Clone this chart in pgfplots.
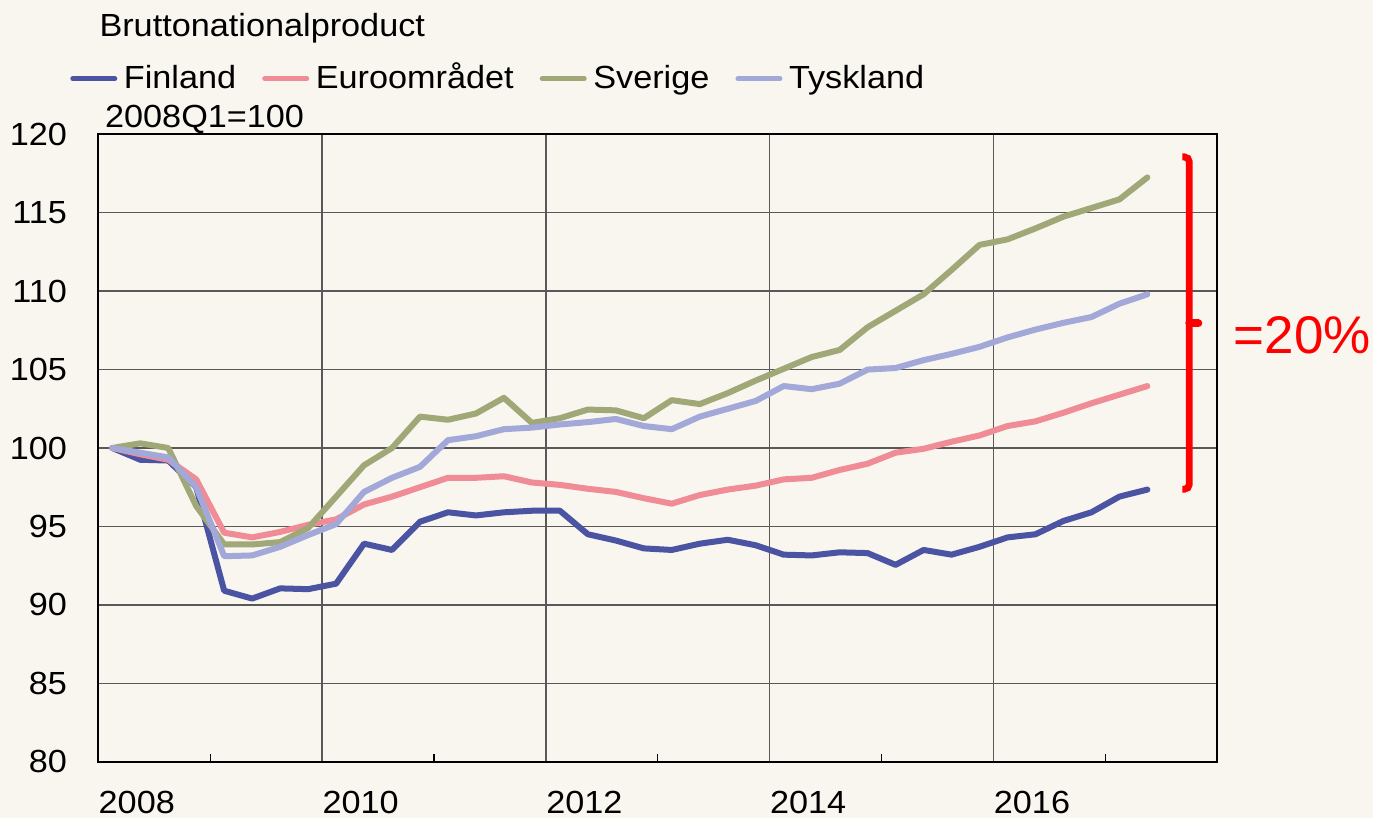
\documentclass[border=0pt]{standalone}
\usepackage{fontspec}
\setmainfont{Liberation Sans}[FakeStretch=1.07]
\newfontfamily\plainfont{Liberation Sans}
\usepackage{pgfplots}
\pgfplotsset{compat=1.18}
\usepackage{pgfplotstable}
\usetikzlibrary{backgrounds,calc}
\definecolor{bg}{RGB}{249,245,239}
\definecolor{cfin}{RGB}{74,84,162}
\definecolor{ceuro}{RGB}{240,140,150}
\definecolor{csve}{RGB}{160,168,120}
\definecolor{ctys}{RGB}{162,168,216}

\pgfplotstableread{
x        fin    euro    sve     tys
2008.125 100.00 100.00 100.00 100.00
2008.375  99.25  99.60 100.30  99.70
2008.625  99.20  99.25 100.00  99.40
2008.875  97.50  98.00  96.30  97.50
2009.125  90.90  94.60  93.85  93.10
2009.375  90.40  94.30  93.85  93.15
2009.625  91.05  94.65  94.00  93.70
2009.875  91.00  95.10  94.90  94.45
2010.125  91.35  95.45  96.90  95.15
2010.375  93.90  96.40  98.90  97.20
2010.625  93.50  96.90 100.00  98.10
2010.875  95.30  97.50 102.00  98.80
2011.125  95.90  98.10 101.80 100.50
2011.375  95.70  98.10 102.20 100.75
2011.625  95.90  98.20 103.20 101.20
2011.875  96.00  97.80 101.60 101.30
2012.125  96.00  97.65 101.90 101.50
2012.375  94.50  97.40 102.45 101.65
2012.625  94.10  97.20 102.40 101.85
2012.875  93.60  96.80 101.90 101.40
2013.125  93.50  96.45 103.05 101.20
2013.375  93.90  97.00 102.80 102.00
2013.625  94.15  97.35 103.50 102.50
2013.875  93.80  97.60 104.30 103.00
2014.125  93.20  98.00 105.05 103.95
2014.375  93.15  98.10 105.80 103.75
2014.625  93.35  98.60 106.25 104.10
2014.875  93.30  99.00 107.70 105.00
2015.125  92.55  99.70 108.75 105.10
2015.375  93.50  99.95 109.80 105.60
2015.625  93.20 100.40 111.35 106.00
2015.875  93.70 100.80 112.95 106.45
2016.125  94.30 101.40 113.30 107.05
2016.375  94.50 101.70 114.00 107.55
2016.625  95.35 102.25 114.75 107.98
2016.875  95.90 102.85 115.30 108.35
2017.125  96.90 103.40 115.85 109.20
2017.375  97.35 103.95 117.25 109.80
}\data

\begin{document}
\begin{tikzpicture}
\begin{axis}[
  name=ax,
  scale only axis,
  width=559.5pt, height=313.7pt,
  xmin=2008, xmax=2018, ymin=80, ymax=120,
  clip=false,
  axis background/.style={fill=bg},
  xtick={2008,2010,2012,2014,2016},
  xticklabels={2008,2010,2012,2014,2016},
  minor xtick={2009,2011,2013,2015,2017},
  ytick={80,85,90,95,100,105,110,115,120},
  yticklabels={80,85,90,95,100,105,110,115,120},
  xtick pos=bottom, ytick pos=left,
  tick align=inside,
  major tick length=0pt,
  minor tick length=4pt,
  minor tick style={black, line width=0.6pt},
  xmajorgrids, ymajorgrids,
  major grid style={draw=black!65, line width=0.7pt},
  axis line style={line width=1.1pt, black},
  tick label style={font=\fontsize{16}{19}\selectfont, inner sep=0pt},
  xticklabel style={anchor=north west, yshift=-14.3pt, xshift=0pt},
  yticklabel style={anchor=east, xshift=-15.5pt},
  legend columns=4,
  legend image code/.code={%
    \path (0pt,0pt) (23.5pt,0pt);
    \draw[#1, line width=2.5pt, line cap=round] (1.25pt,5pt) -- (22.25pt,5pt);},
  legend style={at={(0,1)}, anchor=south west, xshift=-15.5pt, yshift=21.3pt,
    draw=none, fill=none, inner sep=0pt, outer sep=0pt,
    font=\fontsize{16}{19}\selectfont,
    nodes={inner sep=0pt},
    cells={anchor=base west},
    /tikz/every odd column/.append style={column sep=1.8pt},
    /tikz/every even column/.append style={column sep=11.5pt}},
  every axis plot/.append style={line width=3pt, line join=round, line cap=round},
]
\addplot[cfin]  table[x=x, y=fin]  {\data};
\addlegendentry{Finland}
\addplot[ceuro] table[x=x, y=euro] {\data};
\addlegendentry{Euroområdet}
\addplot[csve]  table[x=x, y=sve]  {\data};
\addlegendentry{Sverige}
\addplot[ctys]  table[x=x, y=tys]  {\data};
\addlegendentry{Tyskland}

\draw[red, line width=3.4pt, rounded corners=2.5pt]
  (axis cs:2017.688,118.56) -- (axis cs:2017.75,118.56) --
  (axis cs:2017.75,97.37) -- (axis cs:2017.688,97.37);
\draw[red, line width=4pt, line cap=round]
  (axis cs:2017.75,107.94) -- (axis cs:2017.83,107.94);
\node[red, anchor=base west, inner sep=0pt, xshift=8pt,
  font=\plainfont\fontsize{26.5}{30}\selectfont] at (axis cs:2018,106.0) {=20\%};
\end{axis}

\node[anchor=base west, inner sep=0pt, xshift=0.4pt, yshift=48.8pt,
  font=\fontsize{16}{19}\selectfont] at (ax.north west) {Bruttonationalproduct};
\node[anchor=base west, inner sep=0pt, xshift=3.2pt, yshift=3.3pt,
  font=\fontsize{16}{19}\selectfont] at (ax.north west) {2008Q1=100};

\begin{scope}[on background layer]
\fill[bg] ($(ax.south west)+(-49.15pt,-28.15pt)$) rectangle ($(ax.north east)+(77.85pt,67.15pt)$);
\end{scope}
\pgfresetboundingbox
\path ($(ax.south west)+(-49.15pt,-28.15pt)$) rectangle ($(ax.north east)+(77.85pt,67.15pt)$);
\end{tikzpicture}
\end{document}
